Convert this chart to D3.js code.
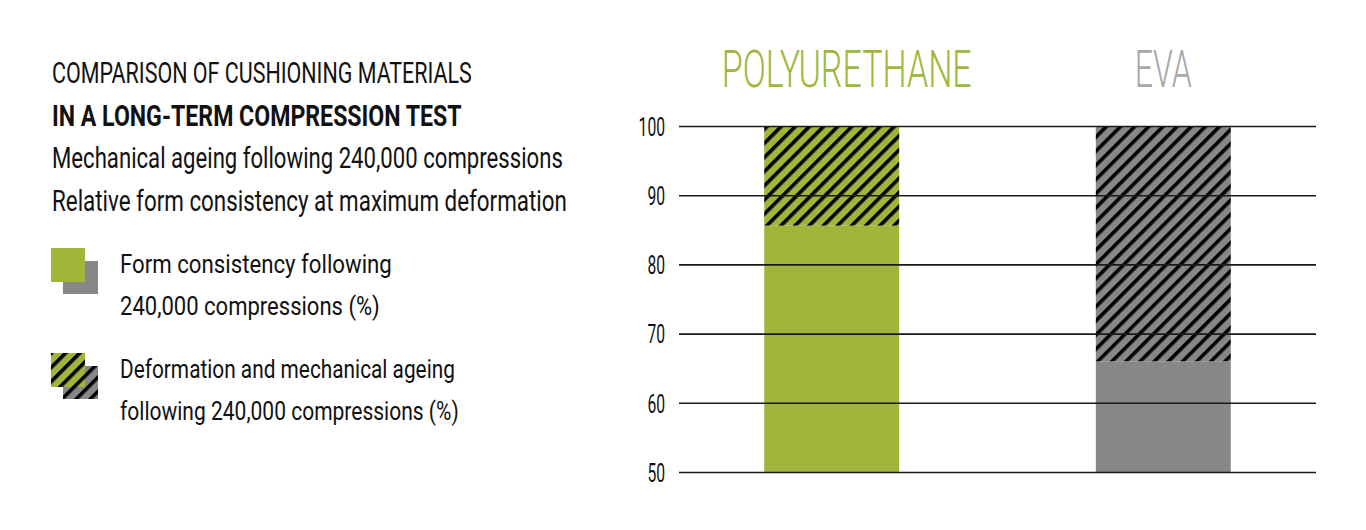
<!DOCTYPE html>
<html>
<head>
<meta charset="utf-8">
<script src="https://cdn.jsdelivr.net/npm/d3@7"></script>
<style>
  body { margin: 0; background: #fff; }
  svg { display: block; font-family: Roboto, "DejaVu Sans", sans-serif; }
</style>
</head>
<body>
<div id="chart"></div>
<script>
// Chart data
const materials = ["POLYURETHANE", "EVA"];
const formConsistency = [85.6, 66];   // % after 240,000 compressions
const yTicks = [50, 60, 70, 80, 90, 100];

const titleLines = [
    "COMPARISON OF CUSHIONING MATERIALS",
    "IN A LONG-TERM COMPRESSION TEST",
    "Mechanical ageing following 240,000 compressions",
    "Relative form consistency at maximum deformation"
];
const legendLabels = [
    ["Form consistency following", "240,000 compressions (%)"],
    ["Deformation and mechanical ageing", "following 240,000 compressions (%)"]
];

const green = "#a0b63b";
const grey = "#878787";
const headerColors = ["#9fb83a", "#a8a8a8"];

const svg = d3.select("#chart").append("svg")
    .attr("width", 1366)
    .attr("height", 530);

// squeeze a text horizontally to the condensed width seen in the reference
function condense(sel, x, y, width) {
    sel.each(function(d, i) {
        const w = this.getComputedTextLength();
        const sx = width(d, i) / w;
        d3.select(this).attr("transform", `translate(${x(d, i)},${y(d, i)}) scale(${sx},1)`);
    });
}

// hatch patterns (black stripes over colour)
const defs = svg.append("defs");
function addHatch(id, colour) {
    const p = defs.append("pattern")
        .attr("id", id)
        .attr("patternUnits", "userSpaceOnUse")
        .attr("width", 10)
        .attr("height", 10)
        .attr("patternTransform", "rotate(45)");
    p.append("rect").attr("width", 10).attr("height", 10).attr("fill", colour);
    p.append("rect").attr("x", 0).attr("y", 0).attr("width", 3.6).attr("height", 10).attr("fill", "#000");
}
addHatch("hatch-green", green);
addHatch("hatch-grey", grey);

// Scales
const y = d3.scaleLinear().domain([50, 100]).range([472, 126]);
const x = d3.scaleBand().domain(materials)
    .range([679, 1316])
    .paddingInner(0.593)
    .paddingOuter(0.257);

// Bars: solid part (form consistency) + hatched part (deformation)
const bars = svg.append("g").selectAll("g")
    .data(materials)
    .join("g");

bars.append("rect")
    .attr("x", d => x(d))
    .attr("width", x.bandwidth())
    .attr("y", (d, i) => y(formConsistency[i]))
    .attr("height", (d, i) => y(50) - y(formConsistency[i]))
    .attr("fill", (d, i) => i === 0 ? green : grey);

bars.append("rect")
    .attr("x", d => x(d))
    .attr("width", x.bandwidth())
    .attr("y", y(100))
    .attr("height", (d, i) => y(formConsistency[i]) - y(100))
    .attr("fill", (d, i) => i === 0 ? "url(#hatch-green)" : "url(#hatch-grey)");

// Gridlines + tick labels (drawn over the bars)
const axis = svg.append("g")
    .attr("transform", "translate(679,0)")
    .call(d3.axisLeft(y).tickValues(yTicks).tickSize(-637).tickPadding(14).tickFormat(d3.format("d")))
    .attr("font-family", null)
    .attr("font-size", null);
axis.select(".domain").remove();
axis.selectAll(".tick line").attr("stroke", "#1a1a1a").attr("stroke-width", 1.6);
axis.selectAll(".tick text")
    .attr("fill", "#111")
    .style("font-size", "26px")
    .style("font-weight", 400)
    .attr("dy", "0.36em")
    .attr("textLength", d => String(d).length * 8.8)
    .attr("lengthAdjust", "spacingAndGlyphs");

// Column headers
const headerWidths = [250, 57];
const headerShift = [15, 0];
svg.append("g").selectAll("text")
    .data(materials)
    .join("text")
    .attr("text-anchor", "middle")
    .attr("fill", (d, i) => headerColors[i])
    .style("font-size", "52px")
    .style("font-weight", 300)
    .text(d => d)
    .call(condense,
        (d, i) => x(d) + x.bandwidth() / 2 + headerShift[i],
        () => 87,
        (d, i) => headerWidths[i]);

// Title block
const titleWidths = [420, 410, 511, 515];
svg.append("g").selectAll("text")
    .data(titleLines)
    .join("text")
    .attr("fill", "#111")
    .style("font-size", "30px")
    .style("font-weight", (d, i) => i === 1 ? 700 : 400)
    .text(d => d)
    .call(condense, () => 52, (d, i) => 83 + i * 42.7, (d, i) => titleWidths[i]);

// Legend
const legendWidths = [[272, 260], [335, 339]];
const legend = svg.append("g").selectAll("g")
    .data(legendLabels)
    .join("g")
    .attr("transform", (d, i) => `translate(0,${i * 105})`);

legend.append("rect")
    .attr("x", 63).attr("y", 261).attr("width", 35).attr("height", 33)
    .attr("fill", (d, i) => i === 0 ? grey : "url(#hatch-grey)");
legend.append("rect")
    .attr("x", 51).attr("y", 248).attr("width", 34).attr("height", 34)
    .attr("fill", (d, i) => i === 0 ? green : "url(#hatch-green)");

legend.each(function(lines, i) {
    d3.select(this).selectAll("text")
        .data(lines)
        .join("text")
        .attr("fill", "#111")
        .style("font-size", "25px")
        .style("font-weight", 400)
        .text(d => d)
        .call(condense, () => 120, (d, j) => 273 + j * 42, (d, j) => legendWidths[i][j]);
});
</script>
</body>
</html>
